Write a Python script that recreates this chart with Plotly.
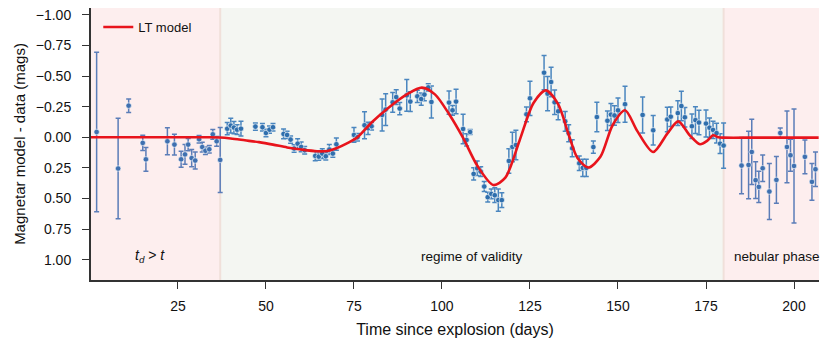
import plotly.graph_objects as go

# ---- data ----
days = [1.9, 8.0, 11.0, 15.0, 15.9, 22.0, 24.0, 25.9, 27.0, 27.9, 28.9, 29.9, 31.0, 31.9, 32.8, 33.9, 34.9, 36.0, 37.0,
        39.0, 40.0, 40.9, 41.8, 42.9, 47.0, 49.0, 50.0, 51.0, 52.0, 55.0, 56.0, 57.0, 58.0, 59.0, 60.0, 61.0,
        64.0, 65.0, 66.0, 67.0, 68.0, 69.0, 70.0, 75.0, 76.0, 78.0, 79.0, 80.0, 83.0, 84.0, 86.0, 87.0, 88.0,
        90.0, 91.0, 93.0, 94.1, 95.0, 96.1, 97.0, 102.0, 103.0, 104.0, 106.0, 107.0, 108.0, 109.0, 110.0, 111.0,
        112.0, 113.0, 114.0, 115.0, 116.0, 117.0, 119.0, 120.0, 121.0, 124.0, 125.0, 129.0, 130.0, 131.0, 132.0,
        133.0, 135.0, 136.0, 137.0, 139.0, 140.0, 141.0, 143.0, 144.0, 147.0, 148.0, 149.0, 150.0, 152.0, 157.0,
        160.0, 164.0, 165.0, 167.0, 168.0, 169.0, 171.0, 172.0, 173.0, 175.0, 176.0, 177.0, 178.0, 179.0, 180.0,
        185.1, 187.1, 188.0, 189.1, 190.0, 191.1, 193.0, 195.0, 196.1, 198.0, 199.0, 200.0, 203.1, 205.1, 206.1]
resid = [-0.043, 0.255, -0.258, 0.046, 0.18, 0.033, 0.06, 0.18, 0.14, 0.06, 0.17, 0.19, 0.016, 0.08, 0.11, 0.098, -0.024, 0.033, 0.185,
         -0.07, -0.095, -0.079, -0.062, -0.07, -0.087, -0.082, -0.035, -0.062, -0.082, -0.027, -0.019, 0.019, 0.092, 0.052, 0.079, 0.106,
         0.152, 0.158, 0.133, 0.155, 0.1, 0.133, 0.057, -0.019, 0.0, -0.098, -0.073, -0.09, -0.182, -0.226, -0.285, -0.328, -0.234,
         -0.342, -0.291, -0.334, -0.312, -0.348, -0.407, -0.288, -0.283, -0.22, -0.291, -0.068, 0.022, -0.043, 0.299, 0.253, 0.28,
         0.402, 0.489, 0.462, 0.473, 0.513, 0.513, 0.193, 0.079, 0.063, -0.187, -0.318, -0.527, -0.356, -0.451, -0.285,
         -0.212, -0.13, -0.033, 0.09, 0.212, 0.25, 0.25, 0.08, -0.165, -0.135, -0.185, -0.178, -0.22, -0.27, -0.182,
         -0.057, -0.145, -0.168, -0.197, -0.255, -0.163, -0.09, -0.14, -0.12, -0.112, -0.078, -0.06, -0.034, 0.052, 0.068,
         0.231, 0.226, 0.12, 0.35, 0.405, 0.253, 0.443, 0.348, -0.035, 0.079, 0.147, 0.234, 0.16, 0.364, 0.261]
errs = [0.65, 0.41, 0.055, 0.063, 0.097, 0.11, 0.085, 0.065, 0.08, 0.05, 0.07, 0.07, 0.03, 0.04, 0.03, 0.03, 0.04, 0.04, 0.265,
        0.05, 0.06, 0.05, 0.04, 0.06, 0.03, 0.03, 0.03, 0.03, 0.03, 0.04, 0.03, 0.03, 0.03, 0.04, 0.04, 0.03,
        0.04, 0.03, 0.04, 0.03, 0.04, 0.03, 0.05, 0.06, 0.03, 0.11, 0.05, 0.03, 0.13, 0.13, 0.08, 0.06, 0.05,
        0.13, 0.08, 0.05, 0.05, 0.05, 0.03, 0.13, 0.095, 0.04, 0.1, 0.12, 0.05, 0.02, 0.05, 0.06, 0.04,
        0.04, 0.04, 0.04, 0.06, 0.09, 0.06, 0.1, 0.12, 0.12, 0.06, 0.14, 0.14, 0.14, 0.12, 0.1,
        0.07, 0.08, 0.07, 0.07, 0.06, 0.07, 0.07, 0.05, 0.12, 0.08, 0.09, 0.08, 0.1, 0.147, 0.147,
        0.12, 0.1, 0.08, 0.1, 0.12, 0.08, 0.1, 0.11, 0.1, 0.11, 0.08, 0.07, 0.08, 0.08, 0.185,
        0.23, 0.275, 0.266, 0.15, 0.128, 0.108, 0.228, 0.19, 0.04, 0.293, 0.13, 0.465, 0.137, 0.15, 0.14]

model_days = [0, 20, 34, 37, 40, 44, 48, 52, 56, 60, 64.5, 67.5, 70, 73, 76, 80, 85, 90, 94.3, 98, 102, 106, 110,
              114.6, 118, 122, 126, 129.5, 133, 136, 138.5, 141.6, 145, 148.5, 152, 155.5, 160, 164, 167.1,
              170.4, 173.3, 175.3, 177, 178.5, 180, 190, 207]
model_vals = [0, 0, 0, 0.002, 0.01, 0.025, 0.04, 0.06, 0.083, 0.1, 0.114, 0.112, 0.09, 0.05, 0.0, -0.12, -0.245, -0.35,
              -0.405, -0.35, -0.19, 0.005, 0.23, 0.39, 0.33, 0.03, -0.28, -0.383, -0.27, -0.02, 0.17, 0.247,
              0.16, -0.1, -0.22, -0.05, 0.12, -0.03, -0.13, -0.016, 0.057, 0.03, -0.016, 0.0, 0.003, 0.003, 0.003]

x_ticks = [25, 50, 75, 100, 125, 150, 175, 200]
y_ticks = [-1.0, -0.75, -0.5, -0.25, 0.0, 0.25, 0.5, 0.75, 1.0]

early_end, valid_end = 37.0, 180.0
x_range = [0.3, 207.1]
y_range = [1.165, -1.055]

FONT = "Arial, Liberation Sans, sans-serif"

fig = go.Figure()

# regions
fig.add_shape(type="rect", xref="x", yref="paper", x0=x_range[0], x1=early_end, y0=0, y1=1,
              fillcolor="#fdeeee", line_width=0, layer="below")
fig.add_shape(type="rect", xref="x", yref="paper", x0=early_end, x1=valid_end, y0=0, y1=1,
              fillcolor="#f4f6f2", line_width=0, layer="below")
fig.add_shape(type="rect", xref="x", yref="paper", x0=valid_end, x1=x_range[1], y0=0, y1=1,
              fillcolor="#fdeeee", line_width=0, layer="below")
for xv in (early_end, valid_end):
    fig.add_shape(type="line", xref="x", yref="paper", x0=xv, x1=xv, y0=0, y1=1,
                  line=dict(color="#f0e0da", width=2), layer="below")

def subset(cond):
    idx = [i for i, d in enumerate(days) if cond(d)]
    return [days[i] for i in idx], [resid[i] for i in idx], [errs[i] for i in idx]

groups = [
    (lambda d: d < 37.5, "#5b7db8", "#3f70b0"),
    (lambda d: 37.5 <= d <= 180.5, "#4a86bf", "#2f6fad"),
    (lambda d: d > 180.5, "#5b7db8", "#3f70b0"),
]
for cond, ecol, mcol in groups:
    gx, gy, ge = subset(cond)
    fig.add_trace(go.Scatter(
        x=gx, y=gy, mode="markers",
        error_y=dict(type="data", array=ge, visible=True, color=ecol, thickness=1.5, width=2.5),
        marker=dict(color=mcol, size=5.5, line=dict(color="white", width=0.6)),
        showlegend=False, hoverinfo="skip"))

fig.add_trace(go.Scatter(x=model_days, y=model_vals, mode="lines", name="LT model",
                         line=dict(color="#e8141c", width=2.6, shape="spline", smoothing=0.8)))

fig.add_annotation(x=17, y=0.97, xref="x", yref="y", text="<i>t</i><sub><i>d</i></sub> > <i>t</i>",
                   showarrow=False, font=dict(family=FONT, size=14, color="#111"))
fig.add_annotation(x=108.5, y=0.97, xref="x", yref="y", text="regime of validity",
                   showarrow=False, font=dict(family=FONT, size=13.5, color="#111"))
fig.add_annotation(x=195.2, y=0.97, xref="x", yref="y", text="nebular phase",
                   showarrow=False, font=dict(family=FONT, size=13.5, color="#111"))

fig.update_layout(
    width=821, height=347,
    margin=dict(l=91, r=2, t=8, b=67),
    paper_bgcolor="white", plot_bgcolor="white",
    font=dict(family=FONT, size=14, color="#111"),
    showlegend=True,
    legend=dict(x=0.01, y=0.985, xanchor="left", yanchor="top", bgcolor="rgba(0,0,0,0)",
                font=dict(family=FONT, size=13, color="#111")),
    xaxis=dict(range=x_range, tickvals=x_ticks, ticks="outside", ticklen=7, tickwidth=1.4,
               tickcolor="#333", showline=True, linecolor="#333", linewidth=2, showgrid=False,
               zeroline=False, mirror=False, ticklabelstandoff=5,
               title=dict(text="Time since explosion (days)", font=dict(family=FONT, size=16), standoff=11),
               tickfont=dict(family=FONT, size=14)),
    yaxis=dict(range=y_range, tickvals=y_ticks, tickformat=".2f", ticks="outside", ticklen=7,
               tickwidth=1.4, tickcolor="#333", showline=True, linecolor="#333", linewidth=2,
               showgrid=False, zeroline=False, ticklabelstandoff=8,
               title=dict(text="Magnetar model - data (mags)", font=dict(family=FONT, size=15), standoff=7),
               tickfont=dict(family=FONT, size=14)),
)

fig.write_html("out.html")
